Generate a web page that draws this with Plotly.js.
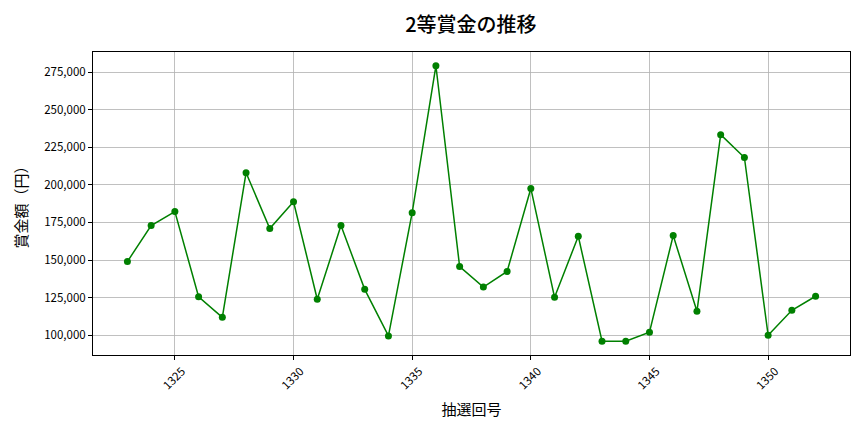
<!DOCTYPE html>
<html>
<head>
<meta charset="utf-8">
<script src="https://cdn.plot.ly/plotly-3.0.1.min.js"></script>
<style>
  html, body { margin: 0; padding: 0; background: #fff; }
  #chart { width: 864px; height: 432px; }
</style>
</head>
<body>
<div id="chart"></div>
<script type="text/javascript">

    /* * Data - 2等賞金 per draw * */
    var draw_numbers = [1323, 1324, 1325, 1326, 1327, 1328, 1329, 1330, 1331, 1332,
                        1333, 1334, 1335, 1336, 1337, 1338, 1339, 1340, 1341, 1342,
                        1343, 1344, 1345, 1346, 1347, 1348, 1349, 1350, 1351, 1352];
    var prize_values = [149000, 172900, 182200, 125600, 111900, 208000, 170900, 188800, 123900, 172900,
                        130500, 99500, 181500, 279200, 145700, 132000, 142400, 197600, 125200, 165800,
                        96000, 96000, 102000, 166300, 115900, 233400, 218200, 100000, 116600, 125900];
    var x_ticks = [1325, 1330, 1335, 1340, 1345, 1350];
    var y_ticks = [100000, 125000, 150000, 175000, 200000, 225000, 250000, 275000];

    var font_family = '"Noto Sans CJK JP", "Noto Sans", sans-serif';
    var color_line = '#008000';

    var data = [{
        x: draw_numbers,
        y: prize_values,
        type: 'scatter',
        mode: 'lines+markers',
        line: { color: color_line, width: 1.5 },
        marker: { color: color_line, size: 7 }
    }];

    var layout = {
        width: 864,
        height: 432,
        margin: { l: 93, r: 14, t: 52, b: 77 },
        paper_bgcolor: '#fff',
        plot_bgcolor: '#fff',
        showlegend: false,
        font: { family: font_family, color: '#000', size: 11 },
        title: {
            text: '2等賞金の推移',
            x: 0.545, xanchor: 'center',
            y: 0.942, yanchor: 'middle',
            font: { family: font_family, size: 20, color: '#000', weight: 500 }
        },
        xaxis: {
            range: [1321.55, 1353.45],
            tickvals: x_ticks,
            ticktext: x_ticks.map(String),
            tickangle: -45,
            ticklabelshift: 7,
            ticks: 'outside', ticklen: 4, tickcolor: '#000',
            showgrid: true, gridcolor: '#b0b0b0', gridwidth: 0.8,
            showline: true, linecolor: '#000', linewidth: 1, mirror: true,
            zeroline: false,
            tickfont: { size: 11.5 },
            title: { text: '抽選回号', font: { size: 15 }, standoff: 13 }
        },
        yaxis: {
            range: [86840, 288360],
            tickvals: y_ticks,
            ticktext: y_ticks.map(function (v) { return v.toLocaleString('en-US'); }),
            ticks: 'outside', ticklen: 4, tickcolor: '#000',
            showgrid: true, gridcolor: '#b0b0b0', gridwidth: 0.8,
            showline: true, linecolor: '#000', linewidth: 1, mirror: true,
            zeroline: false,
            tickfont: { size: 11.5 },
            title: { text: '賞金額（円）', font: { size: 15 }, standoff: 12 }
        }
    };

    Plotly.newPlot(document.getElementById('chart'), data, layout, { displayModeBar: false, staticPlot: true });

</script>
</body>
</html>
